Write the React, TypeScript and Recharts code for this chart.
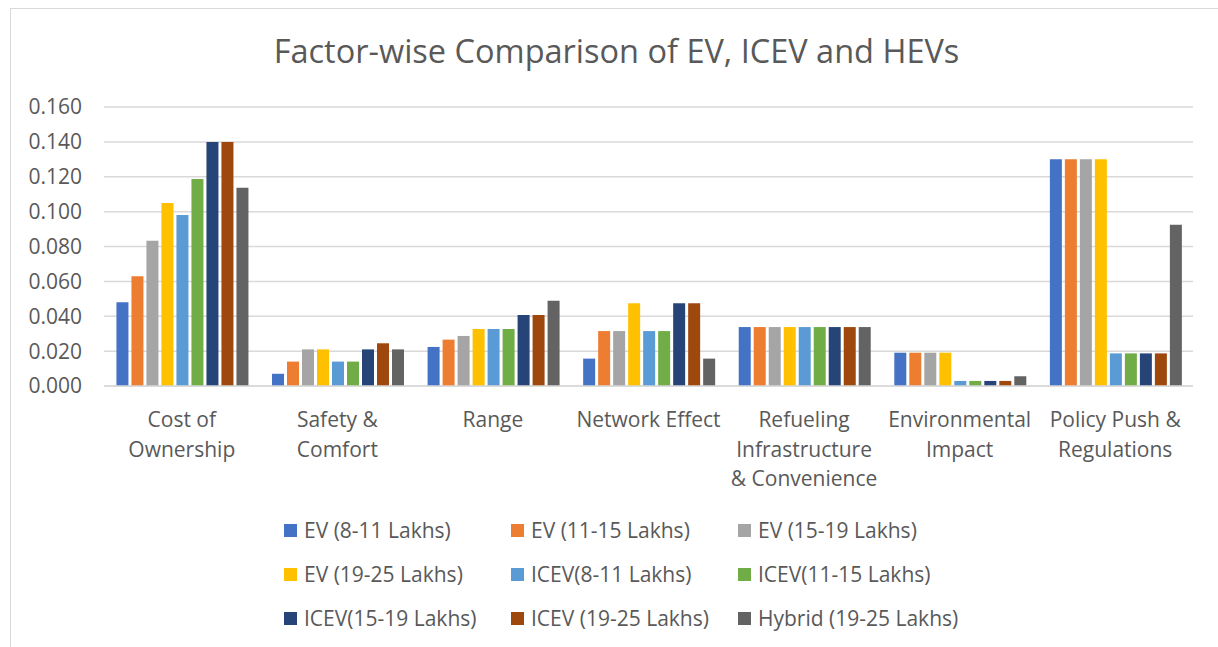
import { BarChart, Bar, XAxis, YAxis, CartesianGrid, Legend } from "recharts";

const categories = [
  "Cost of\nOwnership",
  "Safety &\nComfort",
  "Range",
  "Network Effect",
  "Refueling\nInfrastructure\n& Convenience",
  "Environmental\nImpact",
  "Policy Push &\nRegulations",
];

const evLow = [0.048, 0.007, 0.0224, 0.0157, 0.0338, 0.0191, 0.13];
const evMid = [0.063, 0.014, 0.0266, 0.0315, 0.0338, 0.0191, 0.13];
const evHigh = [0.0833, 0.021, 0.0287, 0.0315, 0.0338, 0.0191, 0.13];
const evTop = [0.105, 0.021, 0.0327, 0.0474, 0.0338, 0.0191, 0.13];
const iceLow = [0.098, 0.014, 0.0327, 0.0315, 0.0338, 0.0029, 0.0187];
const iceMid = [0.1187, 0.014, 0.0327, 0.0315, 0.0338, 0.0029, 0.0187];
const iceHigh = [0.14, 0.021, 0.0407, 0.0474, 0.0338, 0.0029, 0.0187];
const iceTop = [0.14, 0.0245, 0.0407, 0.0474, 0.0338, 0.0029, 0.0187];
const hybrid = [0.1137, 0.021, 0.0489, 0.0157, 0.0338, 0.0056, 0.0925];

const yTicks = [0, 0.02, 0.04, 0.06, 0.08, 0.1, 0.12, 0.14, 0.16];

const series = [
  { key: "evLow", name: "EV (8-11 Lakhs)", values: evLow, color: "#4472C4" },
  { key: "evMid", name: "EV (11-15 Lakhs)", values: evMid, color: "#ED7D31" },
  { key: "evHigh", name: "EV (15-19 Lakhs)", values: evHigh, color: "#A5A5A5" },
  { key: "evTop", name: "EV (19-25 Lakhs)", values: evTop, color: "#FFC000" },
  { key: "iceLow", name: "ICEV(8-11 Lakhs)", values: iceLow, color: "#5B9BD5" },
  { key: "iceMid", name: "ICEV(11-15 Lakhs)", values: iceMid, color: "#70AD47" },
  { key: "iceHigh", name: "ICEV(15-19 Lakhs)", values: iceHigh, color: "#264478" },
  { key: "iceTop", name: "ICEV (19-25 Lakhs)", values: iceTop, color: "#9E480E" },
  { key: "hybrid", name: "Hybrid (19-25 Lakhs)", values: hybrid, color: "#636363" },
];

const data = categories.map((c, i) => {
  const row: Record<string, string | number> = { category: c };
  series.forEach((s) => (row[s.key] = s.values[i]));
  return row;
});

const font = "'Open Sans', sans-serif";
const textColor = "#595959";

function CategoryTick({ x, y, payload }: any) {
  const lines = String(payload.value).split("\n");
  return (
    <text x={x} y={y + 39} textAnchor="middle" fill={textColor} fontSize={21} fontFamily={font}>
      {lines.map((l, i) => (
        <tspan key={i} x={x} dy={i === 0 ? 0 : 29.5}>
          {l}
        </tspan>
      ))}
    </text>
  );
}

function LegendGrid() {
  return (
    <div
      style={{
        display: "grid",
        gridTemplateColumns: "227px 227px 240px",
        gridAutoRows: "44px",
        fontFamily: font,
        fontSize: 21,
        color: textColor,
      }}
    >
      {series.map((s) => (
        <div key={s.key} style={{ display: "flex", alignItems: "center", whiteSpace: "nowrap" }}>
          <span style={{ width: 13, height: 13, background: s.color, marginRight: 7, display: "inline-block" }} />
          {s.name}
        </div>
      ))}
    </div>
  );
}

export default function App() {
  return (
    <div style={{ position: "fixed", left: 0, top: 0, width: 1218, height: 647, overflow: "hidden", background: "#fff" }}>
      <div
        style={{
          position: "absolute",
          left: 10,
          top: 8,
          width: 1240,
          height: 700,
          border: "1px solid #d9d9d9",
        }}
      />
      <div
        style={{
          position: "absolute",
          left: 0,
          top: 28,
          width: 1233,
          textAlign: "center",
          fontFamily: font,
          fontSize: 32.5,
          color: textColor,
        }}
      >
        Factor-wise Comparison of EV, ICEV and HEVs
      </div>
      <BarChart
        width={1218}
        height={647}
        data={data}
        margin={{ top: 107, right: 25, bottom: 29, left: 10 }}
        barGap={3}
        barCategoryGap="8%"
      >
        <CartesianGrid vertical={false} stroke="#d9d9d9" strokeWidth={1.5} />
        <XAxis
          dataKey="category"
          height={100}
          interval={0}
          tickLine={false}
          tickSize={0}
          axisLine={{ stroke: "#d9d9d9", strokeWidth: 1.5 }}
          tick={<CategoryTick />}
        />
        <YAxis
          width={94}
          domain={[0, 0.16]}
          ticks={yTicks}
          tickFormatter={(v: number) => v.toFixed(3)}
          axisLine={false}
          tickLine={false}
          tickSize={0}
          tickMargin={22}
          tick={{ fill: textColor, fontSize: 21, fontFamily: font }}
        />
        <Legend
          verticalAlign="bottom"
          content={<LegendGrid />}
          wrapperStyle={{ top: 508, left: 284, width: 700, height: 132 }}
        />
        {series.map((s) => (
          <Bar key={s.key} dataKey={s.key} name={s.name} fill={s.color} isAnimationActive={false} />
        ))}
      </BarChart>
    </div>
  );
}
